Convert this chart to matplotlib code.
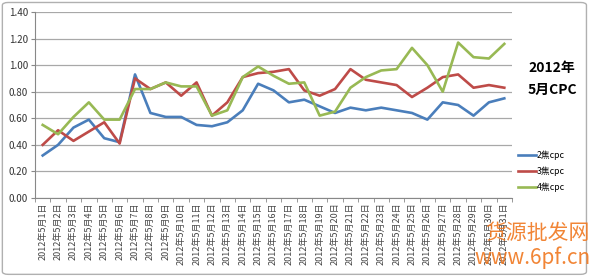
import numpy as np
import matplotlib.pyplot as plt
from matplotlib.patches import FancyBboxPatch

plt.rcParams['font.family'] = ['Noto Sans CJK SC', 'DejaVu Sans']

# 数据
days = [f"2012年5月{d}日" for d in range(1, 32)]
cpc2 = [0.32, 0.40, 0.53, 0.59, 0.45, 0.42, 0.93, 0.64, 0.61, 0.61,
        0.55, 0.54, 0.57, 0.66, 0.86, 0.81, 0.72, 0.74, 0.69, 0.64,
        0.68, 0.66, 0.68, 0.66, 0.64, 0.59, 0.72, 0.70, 0.62, 0.72, 0.75]
cpc3 = [0.40, 0.51, 0.43, 0.50, 0.57, 0.41, 0.90, 0.82, 0.87, 0.77,
        0.87, 0.62, 0.72, 0.91, 0.94, 0.95, 0.97, 0.81, 0.77, 0.82,
        0.97, 0.89, 0.87, 0.85, 0.76, 0.83, 0.91, 0.93, 0.83, 0.85, 0.83]
cpc4 = [0.55, 0.48, 0.61, 0.72, 0.59, 0.59, 0.82, 0.82, 0.87, 0.84,
        0.84, 0.62, 0.66, 0.91, 0.99, 0.92, 0.86, 0.87, 0.62, 0.65,
        0.83, 0.91, 0.96, 0.97, 1.13, 1.00, 0.80, 1.17, 1.06, 1.05, 1.16]
names = ["2焦cpc", "3焦cpc", "4焦cpc"]
colors = ["#4A7EBB", "#BE4B48", "#98B954"]

fig = plt.figure(figsize=(5.9, 2.76), dpi=100)
ax = fig.add_axes([35/590, 78/276, 477/590, 186/276])

x = np.arange(1, 32)
for vals, name, c in zip([cpc2, cpc3, cpc4], names, colors):
    ax.plot(x, vals, color=c, lw=1.9, label=name)

ax.set_xlim(0.5, 31.5)
ax.set_ylim(0, 1.4)
yt = np.arange(0, 1.41, 0.2)
ax.set_yticks(yt)
ax.set_yticklabels([f"{v:.2f}" for v in yt], fontsize=7, color="#333333")
ax.yaxis.grid(True, color="#a8a8a8", lw=0.9)
ax.set_axisbelow(True)

ax.set_xticks(x)
ax.set_xticklabels(days, rotation=90, fontsize=6.5, color="#444444")
ax.tick_params(axis='x', length=0, pad=3)
ax.set_xticks(np.arange(0.5, 32, 1), minor=True)
ax.tick_params(axis='x', which='minor', length=3, color="#888888")
ax.tick_params(axis='y', length=3, color="#888888", pad=2)

for s in ['top', 'right']:
    ax.spines[s].set_visible(False)
ax.spines['left'].set_color("#888888")
ax.spines['bottom'].set_color("#888888")

fig.text(552/590, 1 - 68/276, "2012年", fontsize=10, fontweight='bold', ha='center', va='center')
fig.text(552/590, 1 - 90/276, "5月CPC", fontsize=10, fontweight='bold', ha='center', va='center')

ax.legend(loc='center left', bbox_to_anchor=((518 - 35)/477, 0.145), frameon=False,
          fontsize=6.3, handlelength=2.0, handletextpad=0.15, labelspacing=0.75,
          borderaxespad=0, borderpad=0)

fig.text(537/590, 1 - 233/276, "货源批发网", fontsize=15, color="#F07820", ha='center', va='center', alpha=0.9)
fig.text(533/590, 1 - 258/276, "www.6pf.cn", fontsize=15, color="#F07820", ha='center', va='center', alpha=0.9)

fig.patches.append(FancyBboxPatch((0.004, 0.006), 0.99, 0.985, boxstyle="round,pad=0,rounding_size=0.01",
                                  transform=fig.transFigure, fill=False, ec="#b0b0b0", lw=1))

fig.savefig("out.png", dpi=100)
